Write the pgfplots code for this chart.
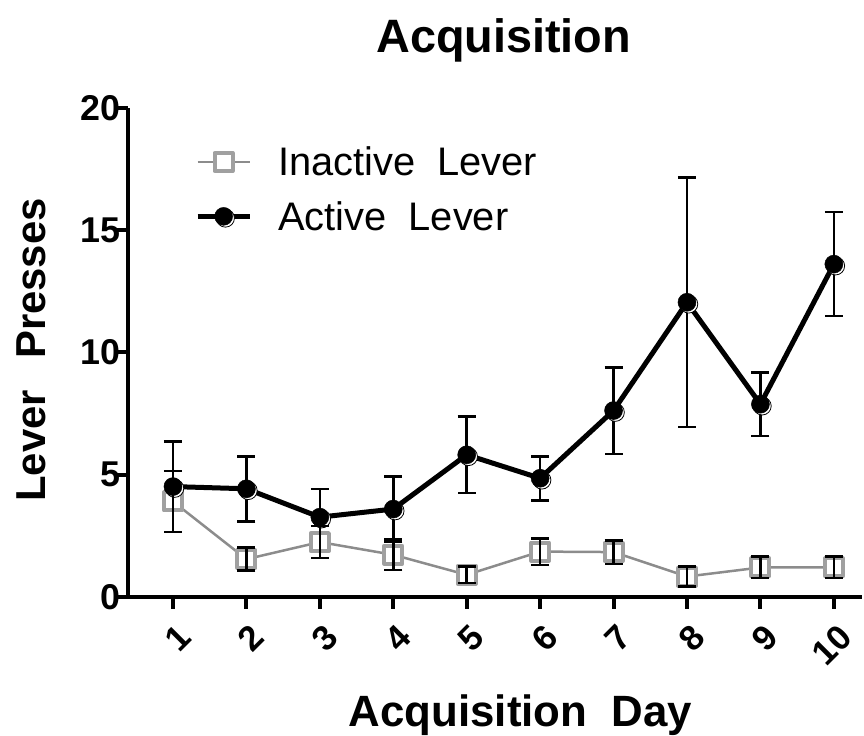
\documentclass[border=0pt]{standalone}
\usepackage{fontspec}
\setmainfont{Liberation Sans}
\usepackage{pgfplots}
\usepackage{pgfplotstable}
\pgfplotsset{compat=1.18}
\definecolor{sqgray}{HTML}{A0A0A0}
\definecolor{lngray}{HTML}{8C8C8C}

% day, mean, sem
\pgfplotstableread{
x y e
1 4.51 1.85
2 4.42 1.33
3 3.26 1.16
4 3.59 1.33
5 5.81 1.57
6 4.85 0.90
7 7.62 1.77
8 12.05 5.10
9 7.88 1.30
10 13.61 2.13
}\actdata
\pgfplotstableread{
x y e
1 3.90 1.25
2 1.54 0.47
3 2.24 0.66
4 1.72 0.62
5 0.90 0.34
6 1.85 0.54
7 1.83 0.48
8 0.83 0.41
9 1.20 0.44
10 1.20 0.44
}\inactdata

\begin{document}
\begin{tikzpicture}[x=1bp,y=1bp]
\begin{axis}[
  set layers,
  at={(128bp,138bp)}, anchor=south west,
  scale only axis, width=734bp, height=489bp,
  xmin=0.387, xmax=10.38, ymin=0, ymax=20,
  axis x line*=bottom, axis y line*=left,
  axis line style={line width=4.5bp, -},
  xtick={1,...,10}, ytick={0,5,...,20},
  tick align=outside, major tick length=12bp,
  tick style={line width=4bp, black},
  /pgf/number format/assume math mode=true,
  yticklabel style={font=\bfseries\fontsize{36}{36}\selectfont, xshift=8bp},
  xticklabel style={font=\bfseries\fontsize{35}{35}\selectfont,
    anchor=east, xshift=14bp, yshift=-20bp, rotate=45},
  title={Acquisition},
  title style={at={(0.512,1.102)}, anchor=base, inner sep=0pt,
    font=\bfseries\fontsize{47}{47}\selectfont},
  xlabel={Acquisition\ \ Day},
  xlabel style={at={(0.535,-0.266)}, anchor=base, inner sep=0pt,
    font=\bfseries\fontsize{44}{44}\selectfont},
  ylabel={Lever\hskip0.75em Presses},
  ylabel style={at={(-0.111,0.505)}, anchor=south, inner sep=0pt,
    font=\bfseries\fontsize{42}{42}\selectfont},
  clip=false,
  legend style={draw=none, fill=none, at={(0.0913,0.925)}, anchor=north west,
    inner sep=0pt, font=\fontsize{40}{42}\selectfont, row sep=20bp,
    column sep=16bp, nodes={inner xsep=10bp, inner ysep=2bp}},
  legend cell align=left,
]

% inactive lever: line + open squares
\addplot[forget plot, lngray, line width=2.5bp,
  mark=square*, mark size=9bp,
  mark options={fill=white, draw=sqgray, line width=4bp, line join=round}]
  table[x=x, y=y] {\inactdata};
% inactive error bars, kept above the squares
\addplot[forget plot, on layer=axis foreground, draw=none, mark=none,
  error bars/.cd, y dir=both, y explicit,
  error bar style={draw=black, line width=2.5bp},
  error mark options={rotate=90, draw=black, line width=2.5bp, mark size=9bp}]
  table[x=x, y=y, y error=e] {\inactdata};

% active lever: line + error bars
\addplot[forget plot, black, line width=5bp, mark=none,
  error bars/.cd, y dir=both, y explicit,
  error bar style={line width=2.5bp},
  error mark options={rotate=90, line width=2.5bp, mark size=9bp}]
  table[x=x, y=y, y error=e] {\actdata};
% offset ring behind the dots
\addplot[forget plot, only marks, mark=*, mark size=9bp,
  mark options={fill=white, draw=black, line width=0.8bp, xshift=1.8bp, yshift=-1.8bp}]
  table[x=x, y=y] {\actdata};
\addplot[forget plot, only marks, mark=*, mark size=9bp,
  mark options={fill=black, draw=black, line width=0.5bp}]
  table[x=x, y=y] {\actdata};

\addlegendimage{legend image code/.code={
  \draw[lngray, line width=2.5bp] (0bp,0bp) -- (52bp,0bp);
  \draw[sqgray, fill=white, line width=4bp, line join=round] (17bp,-9bp) rectangle (35bp,9bp);
}}
\addlegendentry{Inactive\ \ Lever}
\addlegendimage{legend image code/.code={
  \draw[black, line width=5bp] (0bp,0bp) -- (52bp,0bp);
  \draw[black, fill=white, line width=0.8bp] (27.8bp,-1.8bp) circle (9bp);
  \fill[black] (26bp,0bp) circle (9bp);
}}
\addlegendentry{Active\ \ Lever}
\end{axis}
\path (0,0) rectangle (864,735);
\end{tikzpicture}
\end{document}
